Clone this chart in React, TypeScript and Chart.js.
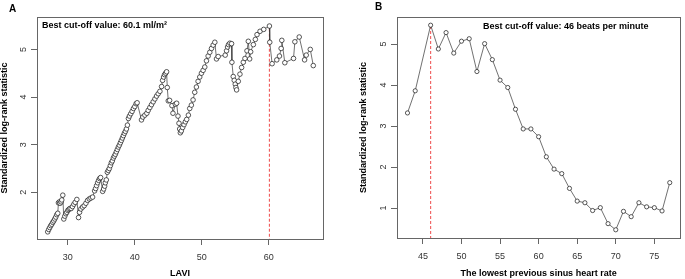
import React, { useEffect, useRef } from "react";
import { Chart, registerables } from "chart.js";
Chart.register(...registerables);

// ---------- Panel A data ----------
const laviValues = [
  27.0, 27.15, 27.3, 27.45, 27.6, 27.75, 27.9, 28.05, 28.2, 28.35,
  28.5, 28.6, 28.75, 28.85, 29.0, 29.1, 29.25, 29.4, 29.55, 29.7,
  29.85, 30.0, 30.15, 30.3, 30.5, 30.7, 30.9, 31.1, 31.35, 31.6,
  31.75, 31.95, 32.2, 32.45, 32.7, 32.95, 33.2, 33.45, 33.7, 34.0,
  34.15, 34.3, 34.45, 34.6, 34.75, 34.9, 35.2, 35.35, 35.5, 35.6,
  35.75, 35.9, 36.05, 36.2, 36.35, 36.5, 36.65, 36.8, 36.95, 37.1,
  37.25, 37.4, 37.55, 37.7, 37.85, 38.0, 38.15, 38.3, 38.45, 38.6,
  38.75, 38.9, 39.05, 39.2, 39.4, 39.6, 39.8, 40.0, 40.2, 40.35,
  41.0, 41.2, 41.5, 41.8, 42.0, 42.25, 42.5, 42.75, 43.0, 43.25,
  43.5, 43.75, 44.0, 44.15, 44.3, 44.45, 44.6, 44.75, 44.85, 45.0,
  45.2, 45.55, 45.7, 46.05, 46.25, 46.45, 46.6, 46.7, 46.8, 46.95,
  47.15, 47.35, 47.55, 47.75, 48.0, 48.2, 48.45, 48.7, 48.95, 49.2,
  49.45, 49.7, 49.95, 50.2, 50.45, 50.7, 50.95, 51.2, 51.45, 51.7,
  51.95, 52.2, 52.45, 53.5, 53.7, 53.85, 54.0, 54.2, 54.45, 54.5,
  54.7, 54.85, 55.0, 55.1, 55.2, 55.45, 55.7, 55.95, 56.2, 56.45,
  56.75, 56.95, 57.15, 57.3, 57.7, 58.0, 58.25, 58.7, 59.25, 60.1,
  60.15, 60.5, 61.2, 61.6, 61.85, 61.95, 62.4, 63.7, 63.9, 64.55,
  65.35, 65.6, 66.2, 66.65,
];
const laviStat = [
  1.17, 1.22, 1.26, 1.3, 1.33, 1.37, 1.4, 1.44, 1.48, 1.53,
  1.56, 1.78, 1.8, 1.77, 1.8, 1.84, 1.94, 1.44, 1.5, 1.55,
  1.58, 1.62, 1.64, 1.66, 1.66, 1.7, 1.75, 1.79, 1.85, 1.47,
  1.58, 1.65, 1.69, 1.72, 1.77, 1.83, 1.86, 1.88, 1.9, 2.03,
  2.08, 2.14, 2.2, 2.25, 2.29, 2.31, 2.02, 2.07, 2.13, 2.2,
  2.26, 2.42, 2.46, 2.5, 2.56, 2.62, 2.66, 2.72, 2.76, 2.8,
  2.85, 2.9, 2.95, 2.99, 3.04, 3.09, 3.14, 3.19, 3.24, 3.28,
  3.33, 3.41, 3.55, 3.6, 3.65, 3.7, 3.76, 3.8, 3.86, 3.88,
  3.52, 3.58, 3.62, 3.66, 3.72, 3.78, 3.84, 3.9, 3.96, 4.02,
  4.07, 4.12, 4.22, 4.35, 4.42, 4.47, 4.5, 4.53, 4.2, 3.92,
  3.93, 3.82, 3.66, 3.85, 3.87, 3.6, 3.45, 3.33, 3.25, 3.29,
  3.36, 3.42, 3.48, 3.53, 3.62, 3.76, 3.83, 3.94, 4.1, 4.21,
  4.33, 4.42, 4.5, 4.56, 4.63, 4.76, 4.86, 4.94, 5.02, 5.09,
  5.15, 4.8, 4.85, 4.88, 4.97, 5.05, 5.1, 5.13, 5.12, 4.73,
  4.43, 4.35, 4.27, 4.2, 4.15, 4.33, 4.48, 4.62, 4.73, 4.81,
  4.97, 5.17, 4.8, 4.95, 5.1, 5.21, 5.31, 5.38, 5.42, 5.49,
  5.15, 4.7, 4.78, 4.86, 5.02, 5.19, 4.72, 4.81, 5.16, 5.26,
  4.78, 4.88, 5.0, 4.66,
];
const cutA = 60.1;
const bestA = 5.49;
const xRangeA = [25.4, 68.1];
const yRangeA = [1.02, 5.68];
const xTicksA = [30, 40, 50, 60];
const yTicksA = [2, 3, 4, 5];

// ---------- Panel B data ----------
const heartRate = [
  43, 44, 46, 47, 48, 49, 50, 51, 52, 53, 54, 55, 56, 57, 58, 59, 60,
  61, 62, 63, 64, 65, 66, 67, 68, 69, 70, 71, 72, 73, 74, 75, 76, 77,
];
const heartStat = [
  3.32, 3.86, 5.46, 4.88, 5.28, 4.78, 5.07, 5.13, 4.33, 5.01, 4.62, 4.12, 3.94, 3.41, 2.93, 2.93, 2.74,
  2.25, 1.95, 1.84, 1.48, 1.17, 1.13, 0.94, 1.01, 0.62, 0.47, 0.92, 0.79, 1.13, 1.03, 1.01, 0.93, 1.62,
];
const cutB = 46;
const bestB = 5.46;
const xRangeB = [41.64, 78.36];
const yRangeB = [0.27, 5.66];
const xTicksB = [45, 50, 55, 60, 65, 70, 75];
const yTicksB = [1, 2, 3, 4, 5];

const FONT = '"Liberation Sans", Arial, Helvetica, sans-serif';

type PanelCfg = {
  xs: number[];
  ys: number[];
  cut: number;
  best: number;
  xRange: number[];
  yRange: number[];
  xTicks: number[];
  yTicks: number[];
  xTitle: string;
  note: string;
  noteX: number;
  noteY: number;
  label: string;
  labelX: number;
  labelY: number;
  yAxisWidth: number;
  xAxisHeight: number;
  padTop: number;
  padRight: number;
  yTitlePad: number;
  pointRadius: number;
};

function makeChart(canvas: HTMLCanvasElement, c: PanelCfg) {
  const boxPlugin = {
    id: "boxAndText",
    afterDraw(chart: any) {
      const { ctx, chartArea } = chart;
      ctx.save();
      ctx.strokeStyle = "#666";
      ctx.lineWidth = 1;
      ctx.strokeRect(
        Math.round(chartArea.left) + 0.5,
        Math.round(chartArea.top) + 0.5,
        Math.round(chartArea.right - chartArea.left),
        Math.round(chartArea.bottom - chartArea.top)
      );
      ctx.fillStyle = "#000";
      ctx.textBaseline = "alphabetic";
      ctx.textAlign = "left";
      ctx.font = `bold 10px ${FONT}`;
      ctx.fillText(c.label, c.labelX, c.labelY);
      ctx.font = `bold 9px ${FONT}`;
      ctx.fillText(c.note, c.noteX, c.noteY);
      ctx.restore();
    },
  };

  const points = c.xs.map((x, i) => ({ x, y: c.ys[i] }));
  const cutLine = [
    { x: c.cut, y: c.yRange[0] - 1 },
    { x: c.cut, y: c.best },
  ];

  return new Chart(canvas, {
    type: "line",
    data: {
      datasets: [
        {
          data: cutLine,
          borderColor: "#f05a5a",
          borderWidth: 1.1,
          borderDash: [3, 2],
          pointRadius: 0,
          fill: false,
          order: 2,
        },
        {
          data: points,
          borderColor: "#333",
          borderWidth: 0.7,
          pointRadius: c.pointRadius,
          pointBorderWidth: 0.75,
          pointBorderColor: "#222",
          pointBackgroundColor: "#fff",
          pointStyle: "circle",
          tension: 0,
          fill: false,
          order: 1,
        },
      ],
    },
    options: {
      responsive: false,
      animation: false,
      devicePixelRatio: 1,
      layout: { padding: { top: c.padTop, right: c.padRight, left: 0, bottom: 0 } },
      plugins: { legend: { display: false }, tooltip: { enabled: false } },
      scales: {
        x: {
          type: "linear",
          min: c.xRange[0],
          max: c.xRange[1],
          afterBuildTicks: (s: any) => {
            s.ticks = c.xTicks.map((v) => ({ value: v }));
          },
          afterFit: (s: any) => {
            s.height = c.xAxisHeight;
          },
          grid: { drawOnChartArea: false, drawTicks: true, tickLength: 6, color: "#666" },
          border: { display: false },
          ticks: {
            autoSkip: false,
            maxRotation: 0,
            minRotation: 0,
            padding: 7,
            color: "#333",
            font: { family: FONT, size: 9 },
          },
          title: {
            display: true,
            text: c.xTitle,
            color: "#000",
            font: { family: FONT, size: 9, weight: "bold" },
            padding: { top: 0, bottom: 0.5 },
          },
        },
        y: {
          type: "linear",
          min: c.yRange[0],
          max: c.yRange[1],
          afterBuildTicks: (s: any) => {
            s.ticks = c.yTicks.map((v) => ({ value: v }));
          },
          afterFit: (s: any) => {
            s.width = c.yAxisWidth;
          },
          grid: { drawOnChartArea: false, drawTicks: true, tickLength: 6, color: "#666" },
          border: { display: false },
          ticks: {
            autoSkip: false,
            minRotation: 90,
            maxRotation: 90,
            crossAlign: "center",
            padding: 5,
            color: "#333",
            font: { family: FONT, size: 9 },
          },
          title: {
            display: true,
            text: "Standardized log-rank statistic",
            color: "#000",
            font: { family: FONT, size: 9, weight: "bold" },
            padding: { top: c.yTitlePad, bottom: 0 },
          },
        },
      },
    } as any,
    plugins: [boxPlugin],
  });
}

function Panel(props: { cfg: PanelCfg; left: number; width: number }) {
  const ref = useRef<HTMLCanvasElement>(null);
  useEffect(() => {
    if (!ref.current) return;
    const chart = makeChart(ref.current, props.cfg);
    return () => chart.destroy();
  }, []);
  return (
    <canvas
      ref={ref}
      width={props.width}
      height={279}
      style={{ position: "absolute", left: props.left, top: 0, width: props.width, height: 279 }}
    />
  );
}

const cfgA: PanelCfg = {
  xs: laviValues,
  ys: laviStat,
  cut: cutA,
  best: bestA,
  xRange: xRangeA,
  yRange: yRangeA,
  xTicks: xTicksA,
  yTicks: yTicksA,
  xTitle: "LAVI",
  note: "Best cut-off value: 60.1 ml/m\u00B2",
  noteX: 42,
  noteY: 28,
  label: "A",
  labelX: 9,
  labelY: 11.5,
  yAxisWidth: 37,
  xAxisHeight: 40,
  padTop: 17,
  padRight: 22,
  yTitlePad: -0.4,
  pointRadius: 2.3,
};

const cfgB: PanelCfg = {
  xs: heartRate,
  ys: heartStat,
  cut: cutB,
  best: bestB,
  xRange: xRangeB,
  yRange: yRangeB,
  xTicks: xTicksB,
  yTicks: yTicksB,
  xTitle: "The lowest previous sinus heart rate",
  note: "Best cut-off value: 46 beats per minute",
  noteX: 138,
  noteY: 29,
  label: "B",
  labelX: 30,
  labelY: 10,
  yAxisWidth: 52,
  xAxisHeight: 41,
  padTop: 17,
  padRight: 2,
  yTitlePad: 13.6,
  pointRadius: 2.1,
};

export default function App() {
  return (
    <div style={{ position: "absolute", left: 0, top: 0, width: 685, height: 279, background: "#fff", overflow: "hidden" }}>
      <Panel cfg={cfgA} left={0} width={345} />
      <Panel cfg={cfgB} left={345} width={340} />
    </div>
  );
}
